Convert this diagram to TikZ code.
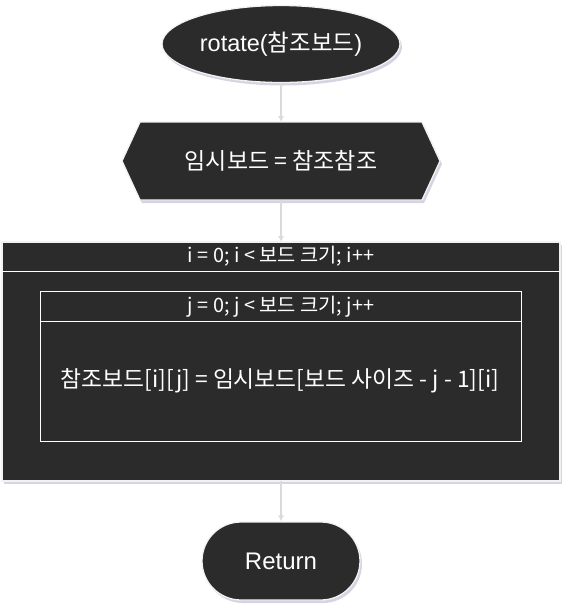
\documentclass[tikz,border=0pt]{standalone}
\usepackage{fontspec}
\setmainfont{Liberation Sans}
\newfontfamily\kr{Noto Sans CJK KR}
\usetikzlibrary{shapes.geometric,shapes.misc,arrows.meta,shadows}
\definecolor{boxfill}{HTML}{2B2B2B}
\definecolor{edgecol}{HTML}{F2F2F2}
\definecolor{arrowcol}{HTML}{DADADA}
\definecolor{shadowcol}{HTML}{B8B8D0}
\tikzset{
  x=1pt, y=-1pt,
  darkshape/.style={fill=boxfill, draw=edgecol, line width=1.3pt, text=white,
    drop shadow={fill=shadowcol, opacity=0.6, shadow xshift=2pt, shadow yshift=-3pt}},
  flowarrow/.style={draw=arrowcol, line width=1.4pt, -{Latex[length=6pt,width=6pt]}},
  innerline/.style={draw=white, line width=1pt},
}
\begin{document}
\begin{tikzpicture}
\useasboundingbox (0,0) rectangle (573,614);
% start ellipse
\node[darkshape, ellipse, minimum width=238pt, minimum height=77pt, inner sep=0pt,
  font=\fontsize{23.5}{28}\selectfont] (start) at (281,44) {rotate({\kr 참조보드})};
% preparation hexagon
\path[darkshape] (122,161) -- (140,122) -- (422,122) -- (440,161) -- (422,200) -- (140,200) -- cycle;
\node[text=white, font=\kr\fontsize{23}{27}\selectfont] (prep) at (281,161) {임시보드 = 참조참조};
\coordinate (prepT) at (281,122);
\coordinate (prepB) at (281,200);
% outer loop
\path[darkshape] (2,242) rectangle (560,481);
\draw[innerline] (2,271) -- (560,271);
\node[text=white, font=\kr\fontsize{19.8}{23}\selectfont] (outerhead) at (281,256.5) {i = 0; i < 보드 크기; i++};
\coordinate (outerT) at (281,242);
\coordinate (outerB) at (281,481);
% inner loop
\draw[innerline] (40,291) rectangle (521,441);
\draw[innerline] (40,321) -- (521,321);
\node[text=white, font=\kr\fontsize{19.8}{23}\selectfont] (innerhead) at (281,306.5) {j = 0; j < 보드 크기; j++};
\node[text=white, font=\kr\fontsize{22.8}{27}\selectfont] (body) at (280,381) {참조보드[i][j] = 임시보드[보드 사이즈 - j - 1][i]};
% return
\node[darkshape, rounded rectangle, minimum width=158pt, minimum height=78pt, inner sep=0pt,
  font=\fontsize{24}{28}\selectfont] (ret) at (281,561) {Return};
% arrows
\draw[flowarrow] (start.south) -- (prepT);
\draw[flowarrow] (prepB) -- (outerT);
\draw[flowarrow] (outerB) -- (ret.north);
\end{tikzpicture}
\end{document}
